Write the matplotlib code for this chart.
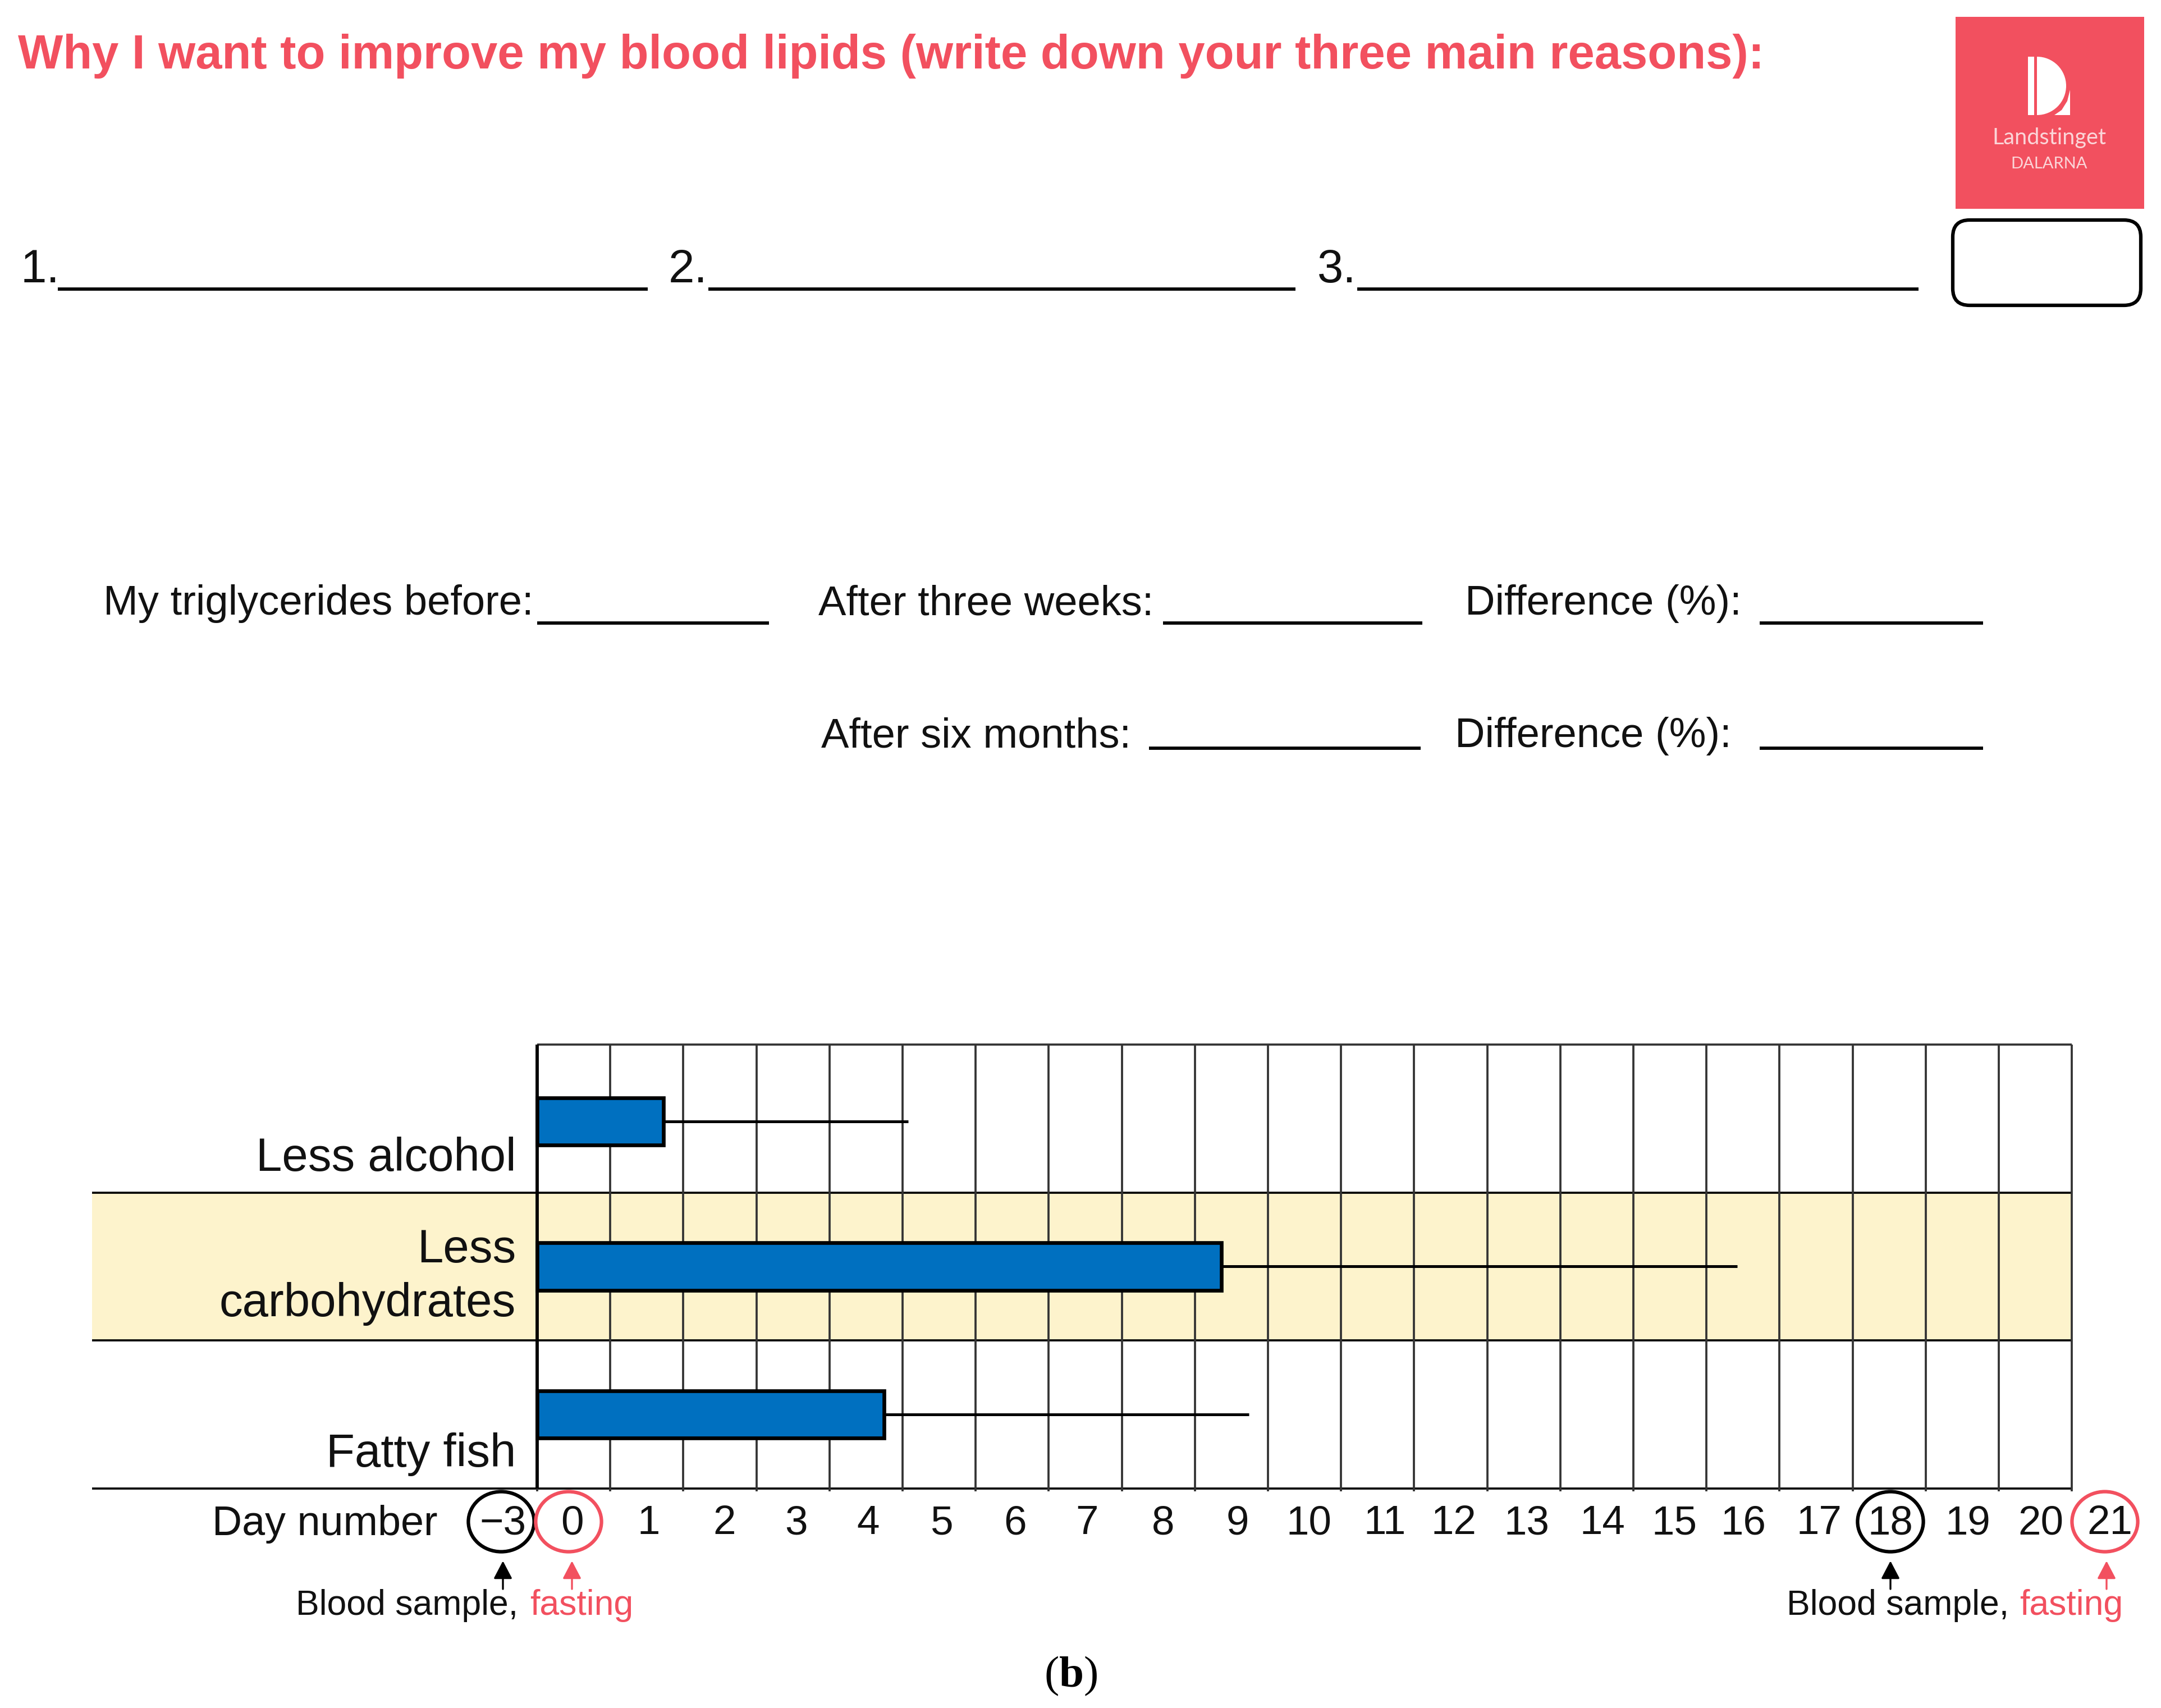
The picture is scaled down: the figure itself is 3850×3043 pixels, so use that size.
import matplotlib
matplotlib.use('Agg')
import matplotlib.pyplot as plt
from matplotlib.patches import Ellipse, FancyBboxPatch, Polygon, Rectangle, Wedge

plt.rcParams['font.family'] = ['Liberation Sans', 'DejaVu Sans']
plt.rcParams['mathtext.fontset'] = 'custom'
plt.rcParams['mathtext.bf'] = 'Liberation Serif:bold'
plt.rcParams['mathtext.rm'] = 'Liberation Serif'

RED = '#F2505F'
BLUE = '#0070C0'
BAND = '#FDF3CC'
GRID = '#333333'

# Chart values (in grid cells from the left axis)
categories = ['Less alcohol', 'Less\ncarbohydrates', 'Fatty fish']
bar_days = [1.73, 9.36, 4.75]
line_days = [5.08, 16.42, 9.74]
day_labels = ['−3', '0', '1', '2', '3', '4', '5', '6', '7', '8', '9', '10', '11',
              '12', '13', '14', '15', '16', '17', '18', '19', '20', '21']
sample_days = ['−3', '0', '18', '21']
sample_colors = ['black', RED, 'black', RED]

# Layout, pixels across the image
label_px = [896, 1019, 1156, 1291, 1419, 1547, 1677, 1809, 1937, 2072, 2205, 2332, 2467,
            2590, 2720, 2855, 2983, 3106, 3241, 3368, 3506, 3636, 3759]
circle_px = [893, 1013, 3368, 3750]
arrow_px = [896, 1019, 3368, 3753]
GRID_X0 = 957
CELL = 130.2

W, H = 3850, 3043
fig = plt.figure(figsize=(W / 300, H / 300), dpi=300, facecolor='white')

# Page layer in pixel coordinates: the form around the chart
page = fig.add_axes([0, 0, 1, 1])
page.set_xlim(0, W)
page.set_ylim(H, 0)
page.axis('off')

page.text(32, 122, 'Why I want to improve my blood lipids (write down your three main reasons):',
          color=RED, fontsize=20.4, fontweight='bold', va='baseline')

# Logo
page.add_patch(Rectangle((3484, 30), 336, 342, fc=RED, ec='none'))
page.add_patch(Rectangle((3613, 101), 11, 104, fc='white', ec='none'))
page.add_patch(Wedge((3629, 153), 52, -90, 90, fc='white', ec='none'))
page.add_patch(Polygon([(3660, 205), (3688, 205), (3688, 160), (3683, 180), (3673, 196)],
                       fc='white', ec='none'))
page.text(3651, 257, 'Landstinget', color='#FBD5D8', fontsize=9.5, family='Lato', ha='center', va='baseline')
page.text(3651, 300, 'DALARNA', color='#FBD5D8', fontsize=7, family='Lato', ha='center', va='baseline')
page.add_patch(FancyBboxPatch((3499, 412), 295, 112, boxstyle='round,pad=20,rounding_size=30',
                              fc='white', ec='black', lw=1.5))

# Reasons row
for label, tx, x0, x1 in [('1.', 37, 103, 1154), ('2.', 1191, 1262, 2308), ('3.', 2347, 2418, 3418)]:
    page.text(tx, 503, label, fontsize=20, color='#111111', va='baseline')
    page.plot([x0, x1], [515, 515], color='black', lw=1.4, solid_capstyle='butt')

# Triglyceride fields
fields = [('My triglycerides before:', 184, 1095, 957, 1370, 1110),
          ('After three weeks:', 1458, 1095, 2072, 2534, 1110),
          ('Difference (%):', 2610, 1095, 3135, 3533, 1110),
          ('After six months:', 1463, 1331, 2047, 2531, 1333),
          ('Difference (%):', 2592, 1331, 3135, 3533, 1333)]
for label, tx, ty, x0, x1, ly in fields:
    page.text(tx, ty, label, fontsize=17.8, color='#111111', va='baseline')
    page.plot([x0, x1], [ly, ly], color='black', lw=1.4, solid_capstyle='butt')

# Notes under the day axis
for bx, fx in [(527, 944), (3183, 3598)]:
    page.text(bx, 2877, 'Blood sample,', fontsize=15, color='#111111', va='baseline')
    page.text(fx, 2877, 'fasting', fontsize=15, color=RED, va='baseline')
page.text(1908, 3005, r'($\mathbf{b}$)', fontsize=19, family='Liberation Serif', ha='center', va='baseline')

# Chart layer runs past the last cell so the day 21 label still shows
ax = fig.add_axes([164 / W, 1 - 2652 / H, (W - 164) / W, (2652 - 1861) / H])
ax.patch.set_alpha(0)
for side in ax.spines.values():
    side.set_visible(False)


def to_x(px):
    return (px - GRID_X0) / CELL


# Grid cells are the major ticks, day numbers are minor ticks with an offset
ax.set_xticks(range(22))
ax.tick_params(axis='x', which='major', length=1.2, width=0.9, color=GRID, labelbottom=False)
ax.grid(axis='x', which='major', color=GRID, lw=0.9, zorder=1)
ax.set_axisbelow(False)
label_x = [to_x(px) for px in label_px]
ax.set_xticks(label_x, labels=day_labels, minor=True)
ax.tick_params(axis='x', which='minor', length=0, pad=7, labelsize=17.5, labelcolor='#111111')
ax.set_yticks([])
x_start = to_x(164)
ax.set_xlim(x_start, to_x(W))
ax.set_ylim(2.5, -0.5)

ax.fill_between([x_start, 21], 0.5, 1.5, color=BAND, lw=0, zorder=0)
ax.hlines([0.5, 1.5, 2.5], x_start, 21, color='black', lw=0.9, zorder=2, clip_on=False)
ax.hlines(-0.5, 0, 21, color=GRID, lw=0.9, zorder=2, clip_on=False)
ax.vlines(0, -0.5, 2.5, color='black', lw=1.4, zorder=3, clip_on=False)

rows = [0.02, 1, 2]
ax.hlines(rows, bar_days, line_days, color='black', lw=1.2, zorder=4)
ax.barh(rows, bar_days, height=0.32, color=BLUE, edgecolor='black', lw=1.6, zorder=5)

for row, name in enumerate(categories):
    base = row + 0.352 if '\n' not in name else row + 0.337
    ax.text(-0.29, base, name, fontsize=20, color='#111111', ha='right', va='baseline',
            linespacing=1.0 if '\n' not in name else 1.3, zorder=6)

ax.text(-1.36, 2.5 + 83 / 263.7, 'Day number', fontsize=17.7, color='#111111', ha='right', va='baseline',
        clip_on=False)

for col, cx, ax_x in zip(sample_colors, circle_px, arrow_px):
    ax.add_patch(Ellipse((to_x(cx), 2.724), 0.9, 0.406, fc='none', ec=col, lw=1.5, clip_on=False, zorder=6))
    ax.annotate('', xy=(to_x(ax_x), 2.989), xytext=(to_x(ax_x), 3.179), annotation_clip=False,
                arrowprops=dict(arrowstyle='-|>,head_length=6.5,head_width=3.4', mutation_scale=1,
                                color=col, lw=0.8, shrinkA=0, shrinkB=0))

fig.savefig('out.png', dpi=300)
